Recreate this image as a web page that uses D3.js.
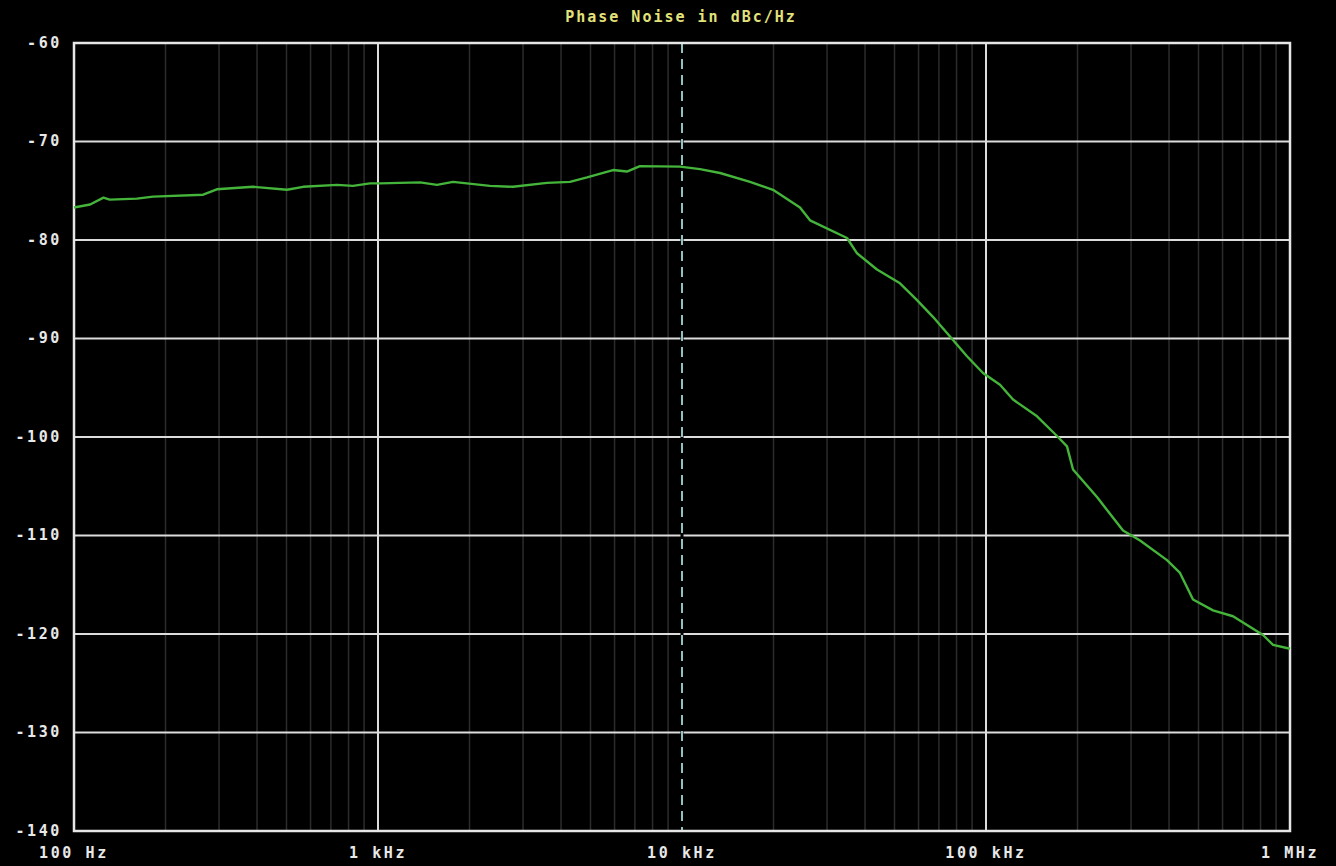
<!DOCTYPE html>
<html>
<head>
<meta charset="utf-8">
<script src="https://cdn.jsdelivr.net/npm/d3@7"></script>
<style>
  body { margin: 0; background: #000; }
  svg { display: block; }
  .lbl { font-family: "DejaVu Sans Mono", monospace; font-weight: bold; font-size: 15px; letter-spacing: 2.6px; fill: #e8e8e8; }
  .ttl { font-family: "DejaVu Sans Mono", monospace; font-weight: bold; font-size: 15px; letter-spacing: 2px; fill: #e2e27a; }
</style>
</head>
<body>
<svg width="1336" height="866"></svg>
<script>
// trace: offset frequency (Hz) and phase noise (dBc/Hz)
const freqs = [100, 113, 125, 131, 161, 182, 266, 295, 388, 502, 567, 733, 827, 941,
  1015, 1375, 1563, 1765, 2335, 2780, 3597, 4280, 4870, 5930, 6590, 7270, 9850,
  11460, 13340, 16740, 19920, 24440, 26370, 34900, 37650, 43790, 52130, 59300, 66900,
  77880, 86580, 97750, 111200, 122700, 147200, 171200, 184700, 193300, 231800, 282300,
  321100, 393900, 434600, 479700, 558100, 649400, 815300, 879400, 1000000];
const noise = [-76.7, -76.4, -75.7, -75.9, -75.8, -75.6, -75.4, -74.85, -74.6, -74.9, -74.6,
  -74.4, -74.5, -74.25, -74.25, -74.15, -74.4, -74.1, -74.5, -74.6, -74.2, -74.1, -73.65,
  -72.9, -73.05, -72.5, -72.55, -72.8, -73.2, -74.1, -74.9, -76.7, -78.0, -79.8, -81.35,
  -83.0, -84.4, -86.1, -87.8, -90.15, -91.8, -93.5, -94.7, -96.2, -97.9, -99.9, -100.95,
  -103.3, -106.1, -109.5, -110.5, -112.5, -113.8, -116.5, -117.6, -118.2, -120.1, -121.1,
  -121.5];

const yTicks = [-60, -70, -80, -90, -100, -110, -120, -130, -140];
const xTicks = [100, 1e3, 1e4, 1e5, 1e6];
const xTickLabels = ['100 Hz', '1 kHz', '10 kHz', '100 kHz', '1 MHz'];
const markerFreq = 1e4;
const title = 'Phase Noise in dBc/Hz';

let svg = d3.select('svg');
let m = { left: 74, right: 1290, top: 43, bottom: 831 };

let x = d3.scaleLog().domain([100, 1e6]).range([m.left, m.right]);
let y = d3.scaleLinear().domain([-60, -140]).range([m.top, m.bottom]);

// minor log grid (2..9 in each decade)
let minors = [];
for (let d = 100; d < 1e6; d *= 10) {
  for (let k = 2; k <= 9; k++) minors.push(d * k);
}
svg.append('g').selectAll('line')
  .data(minors)
  .enter().append('line')
  .attr('x1', d => x(d)).attr('x2', d => x(d))
  .attr('y1', m.top).attr('y2', m.bottom)
  .attr('stroke', '#2c2c2c').attr('stroke-width', 1.5);

// major grid
svg.append('g').selectAll('line')
  .data(xTicks.slice(1, -1))
  .enter().append('line')
  .attr('x1', d => x(d)).attr('x2', d => x(d))
  .attr('y1', m.top).attr('y2', m.bottom)
  .attr('stroke', '#dcdcdc').attr('stroke-width', 2);

svg.append('g').selectAll('line')
  .data(yTicks.slice(1, -1))
  .enter().append('line')
  .attr('x1', m.left).attr('x2', m.right)
  .attr('y1', d => y(d)).attr('y2', d => y(d))
  .attr('stroke', '#dcdcdc').attr('stroke-width', 2);

// marker at 10 kHz
svg.append('line')
  .attr('x1', x(markerFreq)).attr('x2', x(markerFreq))
  .attr('y1', m.top).attr('y2', m.bottom)
  .attr('stroke', '#000').attr('stroke-width', 3);
svg.append('line')
  .attr('x1', x(markerFreq)).attr('x2', x(markerFreq))
  .attr('y1', m.top).attr('y2', m.bottom)
  .attr('stroke', '#8fc4c0').attr('stroke-width', 2)
  .attr('stroke-dasharray', '10,6');

// frame
svg.append('rect')
  .attr('x', m.left).attr('y', m.top)
  .attr('width', m.right - m.left).attr('height', m.bottom - m.top)
  .attr('fill', 'none').attr('stroke', '#e6e6e6').attr('stroke-width', 2.5);

// trace
let line = d3.line()
  .x((d, i) => x(freqs[i]))
  .y(d => y(d));

svg.append('path')
  .datum(noise)
  .attr('d', line)
  .attr('fill', 'none')
  .attr('stroke', '#44b43a')
  .attr('stroke-width', 2.4)
  .attr('stroke-linejoin', 'round');

// axis labels
svg.append('g').selectAll('text')
  .data(yTicks)
  .enter().append('text')
  .attr('class', 'lbl')
  .attr('x', 62)
  .attr('y', d => y(d))
  .attr('dy', '0.3em')
  .attr('text-anchor', 'end')
  .text(d => d);

svg.append('g').selectAll('text')
  .data(xTicks)
  .enter().append('text')
  .attr('class', 'lbl')
  .attr('x', d => x(d))
  .attr('y', 858)
  .attr('text-anchor', 'middle')
  .text((d, i) => xTickLabels[i]);

svg.append('text')
  .attr('class', 'ttl')
  .attr('x', 681).attr('y', 22)
  .attr('text-anchor', 'middle')
  .text(title);
</script>
</body>
</html>
